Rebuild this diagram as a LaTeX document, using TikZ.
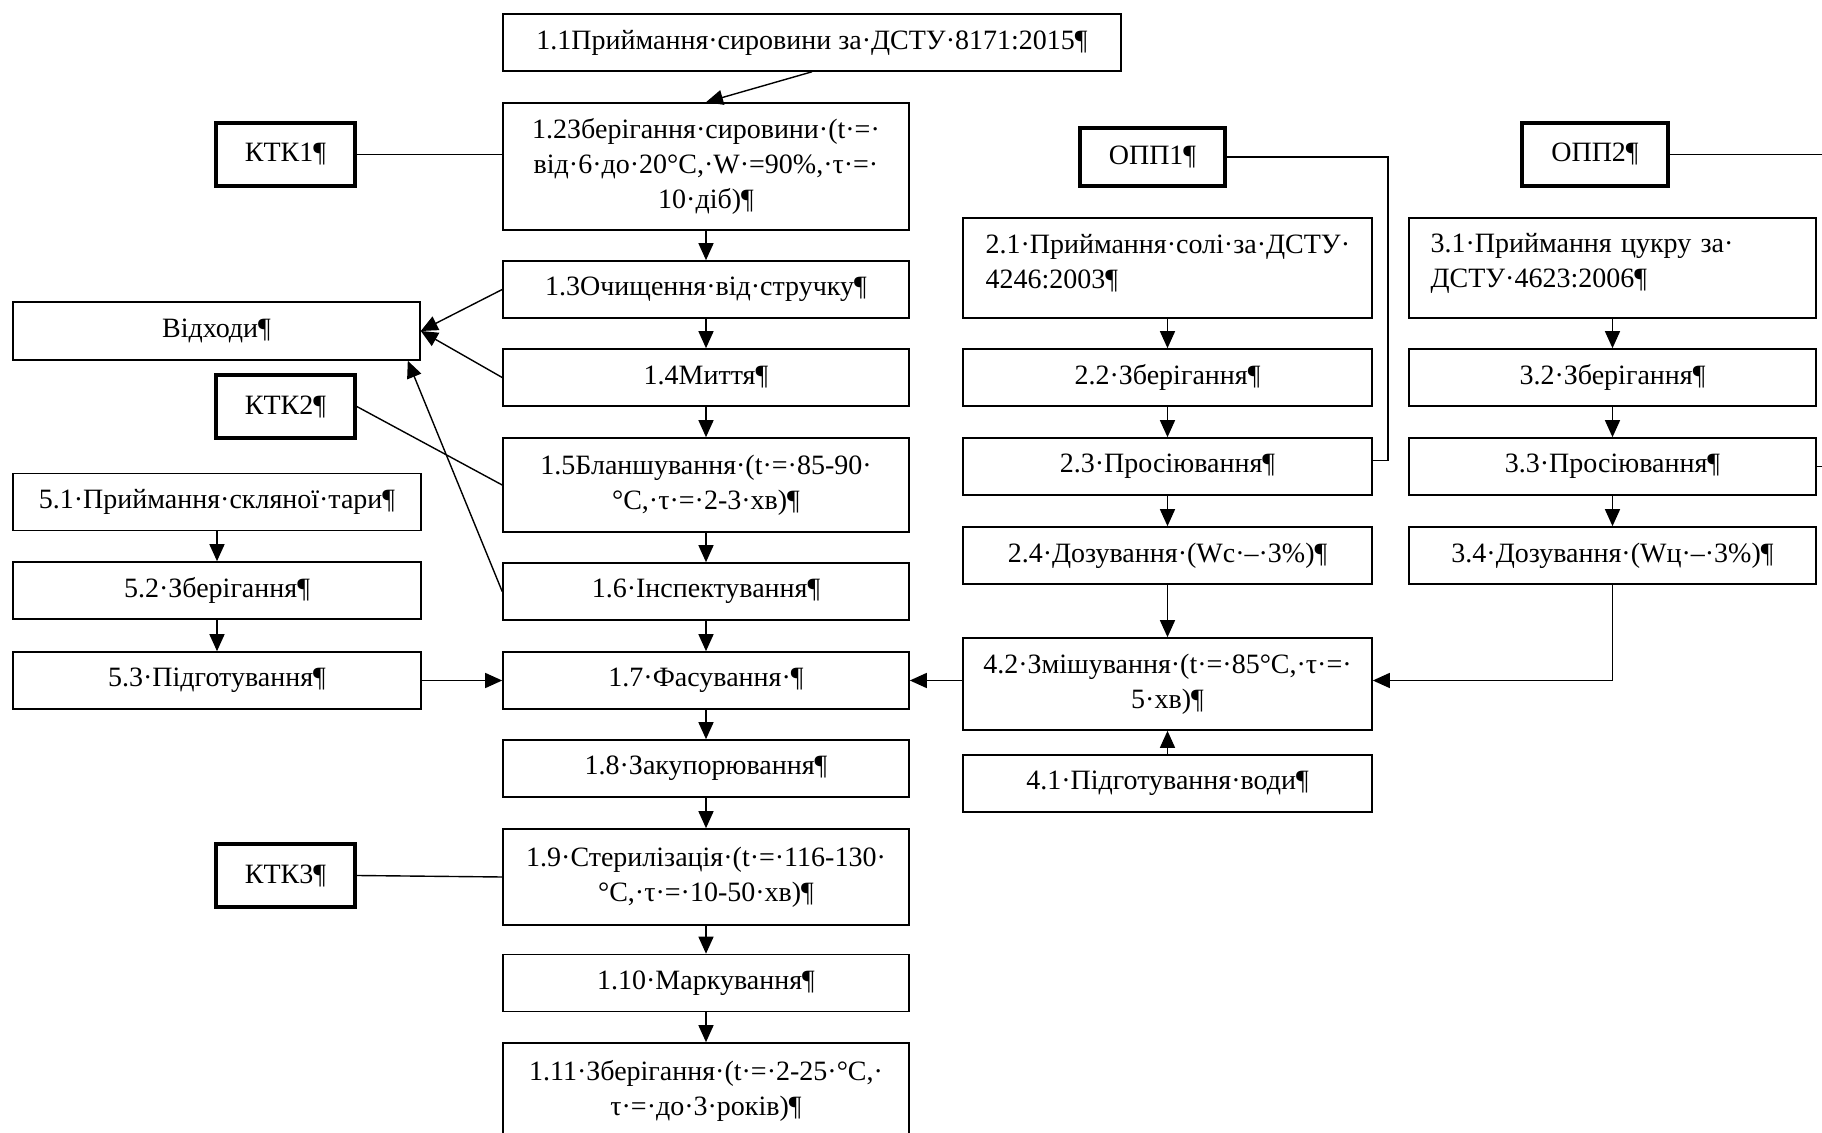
\documentclass[tikz,border=0pt]{standalone}
\usepackage{fontspec}
\setmainfont{Liberation Serif}
\usetikzlibrary{arrows.meta}

\begin{document}
\begin{tikzpicture}[x=0.5pt,y=-0.5pt,
    font=\fontsize{14}{17.5}\selectfont,
    stage/.style={draw,line width=0.8pt,rectangle,align=center,inner sep=2pt,
      minimum width=203pt,minimum height=28.5pt},
    ctrl/.style={draw,line width=1.8pt,rectangle,minimum width=69.5pt,minimum height=31.5pt},
    flow/.style={-{Triangle[length=8.5pt,width=7.5pt]},line width=0.7pt},
    link/.style={line width=0.7pt}]
  \useasboundingbox (0,0) rectangle (1822,1133);
  \clip (0,0) rectangle (1822,1133);
  % main line
  \node[stage,minimum width=309pt] (b11) at (812,42.5) {1.1Приймання·сировини за·ДСТУ·8171:2015¶};
  \node[stage,minimum height=63.5pt] (b12) at (706,166.5) {1.2Зберігання·сировини·(t·=·\\від·6·до·20°С,·W·=90\%,·τ·=·\\10·діб)¶};
  \node[stage] (b13) at (706,289.5) {1.3Очищення·від·стручку¶};
  \node[stage] (b14) at (706,377.5) {1.4Миття¶};
  \node[stage,minimum height=47pt] (b15) at (706,485) {1.5Бланшування·(t·=·85-90·\\°С,·τ·=·2-3·хв)¶};
  \node[stage] (b16) at (706,591.5) {1.6·Інспектування¶};
  \node[stage] (b17) at (706,680.5) {1.7·Фасування·¶};
  \node[stage] (b18) at (706,768.5) {1.8·Закупорювання¶};
  \node[stage,minimum height=48pt] (b19) at (706,877) {1.9·Стерилізація·(t·=·116-130·\\°С,·τ·=·10-50·хв)¶};
  \node[stage] (b110) at (706,983) {1.10·Маркування¶};
  \node[stage,minimum height=47.5pt] (b111) at (706,1090.5) {1.11·Зберігання·(t·=·2-25·°С,·\\τ·=·до·3·років)¶};
  % left side
  \node[stage,minimum width=203.5pt,minimum height=29pt] (vidkh) at (216.5,331) {Відходи¶};
  \node[stage,minimum width=204pt] (b51) at (217,502) {5.1·Приймання·скляної·тари¶};
  \node[stage,minimum width=204pt] (b52) at (217,590.5) {5.2·Зберігання¶};
  \node[stage,minimum width=204pt] (b53) at (217,680.5) {5.3·Підготування¶};
  \node[ctrl] (k1) at (285.5,154.5) {КТК1¶};
  \node[ctrl] (k2) at (285.5,406.5) {КТК2¶};
  \node[ctrl] (k3) at (285.5,875.5) {КТК3¶};
  % salt and water
  \node[ctrl,minimum width=72.5pt,minimum height=29pt] (o1) at (1152.5,157) {ОПП1¶};
  \node[stage,minimum width=204.5pt,minimum height=50pt,align=left,text width=182pt] (b21) at (1167.5,268) {2.1·Приймання·солі·за·ДСТУ·\\4246:2003¶\vspace{5pt}};
  \node[stage,minimum width=204.5pt] (b22) at (1167.5,377.5) {2.2·Зберігання¶};
  \node[stage,minimum width=204.5pt] (b23) at (1167.5,466.5) {2.3·Просіювання¶};
  \node[stage,minimum width=204.5pt] (b24) at (1167.5,555.5) {2.4·Дозування·(Wс·–·3\%)¶};
  \node[stage,minimum width=204.5pt,minimum height=46pt] (b42) at (1167.5,684) {4.2·Змішування·(t·=·85°С,·τ·=·\\5·хв)¶};
  \node[stage,minimum width=204.5pt] (b41) at (1167.5,783.5) {4.1·Підготування·води¶};
  % sugar
  \node[ctrl,minimum width=73pt] (o2) at (1595,154.5) {ОПП2¶};
  \node[stage,minimum width=203.5pt,minimum height=50pt,align=left,text width=182pt] (b31) at (1612.5,268) {3.1·Приймання цукру за·\\ДСТУ·4623:2006¶\vspace{5pt}};
  \node[stage,minimum width=203.5pt] (b32) at (1612.5,377.5) {3.2·Зберігання¶};
  \node[stage,minimum width=203.5pt] (b33) at (1612.5,466.5) {3.3·Просіювання¶};
  \node[stage,minimum width=203.5pt] (b34) at (1612.5,555.5) {3.4·Дозування·(Wц·–·3\%)¶};
  % arrows
  \draw[flow] (b11.south) -- (b12.north);
  \draw[flow] (b12) -- (b13);
  \draw[flow] (b13) -- (b14);
  \draw[flow] (b14) -- (b15);
  \draw[flow] (b15) -- (b16);
  \draw[flow] (b16) -- (b17);
  \draw[flow] (b17) -- (b18);
  \draw[flow] (b18) -- (b19);
  \draw[flow] (b19) -- (b110);
  \draw[flow] (b110) -- (b111);
  \draw[flow] (b13.west) -- (vidkh.east);
  \draw[flow] (b14.west) -- (vidkh.east);
  \draw[flow] (b16.west) -- ([xshift=-6.5pt]vidkh.south east);
  \draw[link] (k1.east) -- (k1.east -| b12.west);
  \draw[link] (k2.east) -- (b15.west);
  \draw[link] (k3.east) -- (b19.west);
  \draw[flow] (b51) -- (b52);
  \draw[flow] (b52) -- (b53);
  \draw[flow] (b53.east) -- (b17.west);
  \draw[flow] (b21) -- (b22);
  \draw[flow] (b22) -- (b23);
  \draw[flow] (b23) -- (b24);
  \draw[flow] (b24) -- (b42);
  \draw[flow] (b41) -- (b42);
  \draw[flow] (b42.west |- b17.east) -- (b17.east);
  \draw[flow] (b31) -- (b32);
  \draw[flow] (b32) -- (b33);
  \draw[flow] (b33) -- (b34);
  \draw[flow] (b34.south) |- (b42.east |- b17.east);
  \draw[link] (o1.east) -- ++(161,0) |- ([yshift=3pt]b23.east);
  \draw[link] (o2.east) -- ++(250,0) |- (b33.east);
\end{tikzpicture}
\end{document}
